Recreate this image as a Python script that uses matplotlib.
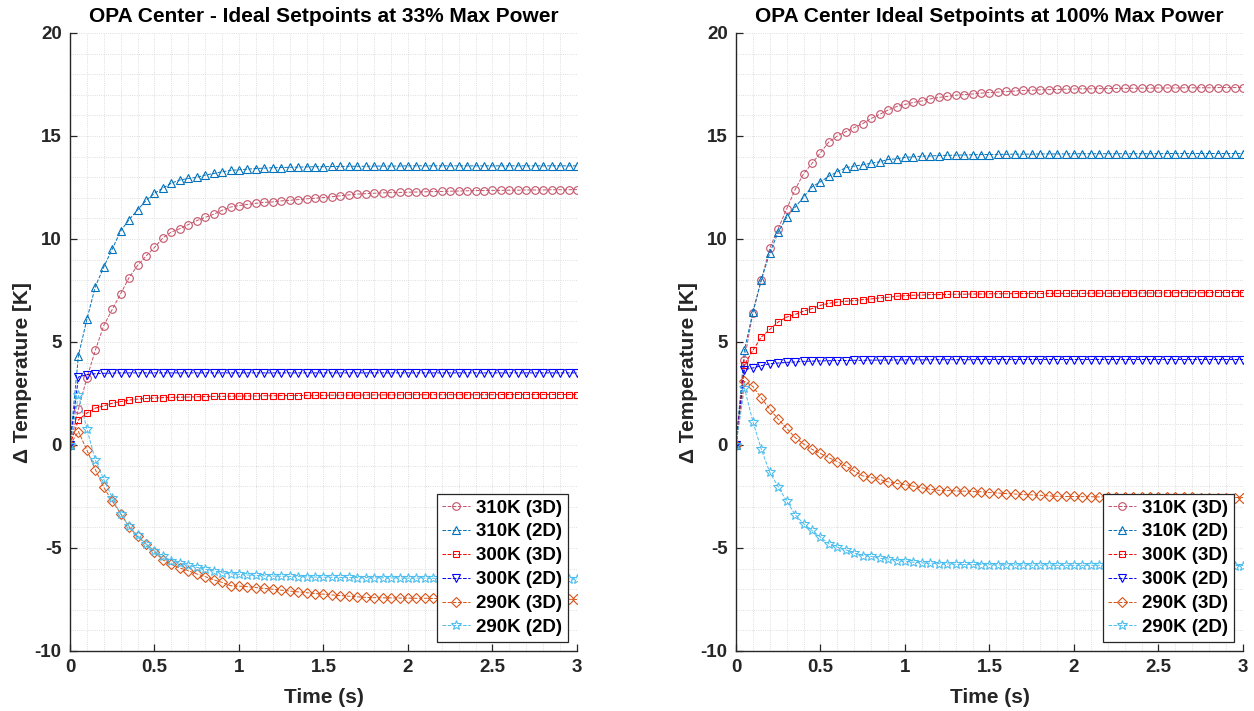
import matplotlib.pyplot as plt
from matplotlib.ticker import MultipleLocator
import numpy as np

plt.rcParams['font.family'] = ['Liberation Sans', 'DejaVu Sans']
plt.rcParams['font.weight'] = 'bold'
plt.rcParams['axes.unicode_minus'] = False

# time axis, 0 to 3 s in 0.05 s steps
t = np.linspace(0, 3, 61)

labels = ['310K (3D)', '310K (2D)', '300K (3D)', '300K (2D)', '290K (3D)', '290K (2D)']
colors = ['#C4536A', '#0072BD', '#FF0000', '#0000FF', '#D95319', '#4DBEEE']
markers = ['o', '^', 's', 'v', 'D', '*']
msizes = [5.5, 5.5, 4.2, 5.5, 5.0, 7.5]

# --- 33% max power ---
l_310_3d = [0, 1.74, 3.25, 4.60, 5.80, 6.58, 7.34, 8.13, 8.72, 9.17, 9.59,
            10.05, 10.34, 10.50, 10.70, 10.89, 11.05, 11.20, 11.39, 11.55, 11.62,
            11.68, 11.73, 11.78, 11.80, 11.85, 11.88, 11.91, 11.95, 11.98, 12.01,
            12.05, 12.10, 12.14, 12.18, 12.20, 12.22, 12.24, 12.25, 12.26, 12.27,
            12.28, 12.29, 12.30, 12.31, 12.32, 12.33, 12.34, 12.35, 12.35, 12.36,
            12.36, 12.37, 12.37, 12.38, 12.38, 12.38, 12.39, 12.39, 12.39, 12.40]
l_310_2d = [0, 4.34, 6.10, 7.69, 8.64, 9.51, 10.39, 10.94, 11.41, 11.87, 12.22,
            12.47, 12.71, 12.86, 12.94, 12.99, 13.10, 13.18, 13.26, 13.33, 13.36,
            13.39, 13.42, 13.44, 13.46, 13.47, 13.48, 13.49, 13.50, 13.51, 13.51,
            13.52, 13.52, 13.53, 13.53, 13.53, 13.54, 13.54, 13.54, 13.54, 13.55,
            13.55, 13.55, 13.55, 13.55, 13.55, 13.55, 13.55, 13.55, 13.55, 13.55,
            13.55, 13.55, 13.55, 13.55, 13.55, 13.55, 13.55, 13.55, 13.55, 13.55]
l_300_3d = [0, 1.22, 1.55, 1.79, 1.90, 2.03, 2.11, 2.18, 2.23, 2.26, 2.28,
            2.30, 2.31, 2.32, 2.33, 2.34, 2.35, 2.36, 2.36, 2.37, 2.37,
            2.38, 2.38, 2.39, 2.39, 2.40, 2.40, 2.40, 2.41, 2.41, 2.41,
            2.42, 2.42, 2.42, 2.42, 2.43, 2.43, 2.43, 2.43, 2.43, 2.44,
            2.44, 2.44, 2.44, 2.44, 2.44, 2.44, 2.44, 2.44, 2.44, 2.44,
            2.45, 2.45, 2.45, 2.45, 2.45, 2.45, 2.45, 2.45, 2.45, 2.45]
l_300_2d = [0, 3.30, 3.42, 3.46, 3.48, 3.49, 3.50, 3.50, 3.50, 3.50, 3.50,
            3.50, 3.50, 3.50, 3.50, 3.50, 3.50, 3.50, 3.50, 3.50, 3.50,
            3.50, 3.50, 3.50, 3.50, 3.50, 3.50, 3.50, 3.50, 3.50, 3.50,
            3.50, 3.50, 3.50, 3.50, 3.50, 3.50, 3.50, 3.50, 3.50, 3.50,
            3.50, 3.50, 3.50, 3.50, 3.50, 3.50, 3.50, 3.50, 3.50, 3.50,
            3.50, 3.50, 3.50, 3.50, 3.50, 3.50, 3.50, 3.50, 3.50, 3.50]
l_290_3d = [0, 0.65, -0.24, -1.19, -2.06, -2.72, -3.33, -3.98, -4.44, -4.83, -5.19,
            -5.58, -5.80, -5.97, -6.10, -6.26, -6.39, -6.54, -6.67, -6.83, -6.85,
            -6.88, -6.92, -6.96, -7.00, -7.05, -7.09, -7.13, -7.17, -7.21, -7.24,
            -7.28, -7.31, -7.34, -7.37, -7.40, -7.41, -7.42, -7.42, -7.43, -7.43,
            -7.44, -7.44, -7.45, -7.45, -7.45, -7.46, -7.46, -7.46, -7.47, -7.47,
            -7.47, -7.47, -7.48, -7.48, -7.48, -7.48, -7.49, -7.49, -7.49, -7.50]
l_290_2d = [0, 2.44, 0.78, -0.73, -1.67, -2.55, -3.37, -3.95, -4.39, -4.80, -5.14,
            -5.40, -5.61, -5.74, -5.84, -5.94, -6.03, -6.11, -6.20, -6.25, -6.28,
            -6.31, -6.33, -6.35, -6.36, -6.37, -6.38, -6.39, -6.40, -6.41, -6.42,
            -6.42, -6.43, -6.43, -6.44, -6.44, -6.45, -6.45, -6.45, -6.46, -6.46,
            -6.46, -6.46, -6.47, -6.47, -6.47, -6.47, -6.47, -6.48, -6.48, -6.48,
            -6.48, -6.48, -6.48, -6.49, -6.49, -6.49, -6.49, -6.49, -6.50, -6.50]

# --- 100% max power ---
r_310_3d = [0, 4.15, 6.42, 8.02, 9.56, 10.50, 11.46, 12.40, 13.17, 13.67, 14.19,
            14.71, 15.00, 15.21, 15.41, 15.60, 15.85, 16.05, 16.26, 16.43, 16.53,
            16.63, 16.70, 16.80, 16.87, 16.92, 16.98, 17.01, 17.04, 17.08, 17.11,
            17.13, 17.16, 17.18, 17.21, 17.22, 17.24, 17.25, 17.26, 17.27, 17.28,
            17.29, 17.29, 17.30, 17.30, 17.31, 17.31, 17.32, 17.32, 17.32, 17.33,
            17.33, 17.33, 17.34, 17.34, 17.34, 17.34, 17.35, 17.35, 17.35, 17.35]
r_310_2d = [0, 4.60, 6.45, 8.02, 9.32, 10.34, 11.05, 11.54, 12.03, 12.53, 12.78,
            13.05, 13.26, 13.46, 13.54, 13.60, 13.68, 13.75, 13.86, 13.89, 13.96,
            13.99, 14.02, 14.03, 14.05, 14.06, 14.07, 14.08, 14.09, 14.10, 14.10,
            14.11, 14.11, 14.12, 14.12, 14.12, 14.13, 14.13, 14.13, 14.13, 14.14,
            14.14, 14.14, 14.14, 14.14, 14.14, 14.14, 14.14, 14.14, 14.14, 14.14,
            14.15, 14.15, 14.15, 14.15, 14.15, 14.15, 14.15, 14.15, 14.15, 14.15]
r_300_3d = [0, 3.90, 4.59, 5.24, 5.61, 5.97, 6.21, 6.34, 6.50, 6.62, 6.78,
            6.88, 6.94, 6.98, 7.01, 7.06, 7.09, 7.14, 7.17, 7.22, 7.25,
            7.27, 7.28, 7.30, 7.30, 7.31, 7.32, 7.32, 7.33, 7.33, 7.34,
            7.34, 7.34, 7.35, 7.35, 7.35, 7.35, 7.36, 7.36, 7.36, 7.36,
            7.36, 7.37, 7.37, 7.37, 7.37, 7.38, 7.38, 7.38, 7.38, 7.38,
            7.39, 7.39, 7.39, 7.39, 7.39, 7.40, 7.40, 7.40, 7.40, 7.40]
r_300_2d = [0, 3.66, 3.74, 3.85, 3.94, 3.98, 4.01, 4.03, 4.06, 4.07, 4.08,
            4.09, 4.10, 4.10, 4.11, 4.11, 4.12, 4.12, 4.12, 4.13, 4.13,
            4.13, 4.13, 4.14, 4.14, 4.14, 4.14, 4.14, 4.14, 4.15, 4.15,
            4.15, 4.15, 4.15, 4.15, 4.15, 4.15, 4.15, 4.15, 4.15, 4.15,
            4.15, 4.15, 4.15, 4.15, 4.15, 4.15, 4.15, 4.15, 4.15, 4.15,
            4.15, 4.15, 4.15, 4.15, 4.15, 4.15, 4.15, 4.15, 4.15, 4.15]
r_290_3d = [0, 3.09, 2.84, 2.28, 1.74, 1.25, 0.81, 0.36, 0.05, -0.21, -0.41,
            -0.62, -0.81, -1.02, -1.27, -1.50, -1.58, -1.67, -1.79, -1.87, -1.92,
            -2.00, -2.08, -2.15, -2.20, -2.21, -2.23, -2.24, -2.26, -2.27, -2.31,
            -2.33, -2.36, -2.38, -2.41, -2.42, -2.44, -2.47, -2.49, -2.50, -2.50,
            -2.51, -2.51, -2.52, -2.52, -2.52, -2.53, -2.53, -2.53, -2.53, -2.54,
            -2.54, -2.54, -2.54, -2.54, -2.55, -2.55, -2.55, -2.55, -2.55, -2.55]
r_290_2d = [0, 2.77, 1.14, -0.21, -1.33, -2.03, -2.72, -3.38, -3.82, -4.15, -4.47,
            -4.80, -4.96, -5.09, -5.25, -5.37, -5.41, -5.50, -5.53, -5.61, -5.64,
            -5.69, -5.72, -5.74, -5.76, -5.77, -5.79, -5.80, -5.80, -5.81, -5.81,
            -5.82, -5.82, -5.82, -5.83, -5.83, -5.83, -5.83, -5.84, -5.84, -5.84,
            -5.84, -5.84, -5.84, -5.84, -5.85, -5.85, -5.85, -5.85, -5.85, -5.85,
            -5.85, -5.85, -5.85, -5.85, -5.85, -5.85, -5.85, -5.85, -5.85, -5.85]

left_series = [l_310_3d, l_310_2d, l_300_3d, l_300_2d, l_290_3d, l_290_2d]
right_series = [r_310_3d, r_310_2d, r_300_3d, r_300_2d, r_290_3d, r_290_2d]
titles = ['OPA Center - Ideal Setpoints at 33% Max Power',
          'OPA Center Ideal Setpoints at 100% Max Power']

fig = plt.figure(figsize=(12.54, 7.11), dpi=100)
ax1 = fig.add_axes([0.0558, 0.0844, 0.4043, 0.8692])
ax2 = fig.add_axes([0.5869, 0.0844, 0.4043, 0.8692])

for ax, series, title in zip([ax1, ax2], [left_series, right_series], titles):
    for y, lab, c, m, ms in zip(series, labels, colors, markers, msizes):
        ax.plot(t, y, linestyle='--', linewidth=0.7, color=c, marker=m,
                markersize=ms, markerfacecolor='none', markeredgewidth=0.8,
                label=lab)
    ax.set_xlim(0, 3)
    ax.set_ylim(-10, 20)
    ax.xaxis.set_major_locator(MultipleLocator(0.5))
    ax.xaxis.set_minor_locator(MultipleLocator(0.1))
    ax.yaxis.set_major_locator(MultipleLocator(5))
    ax.yaxis.set_minor_locator(MultipleLocator(1))
    ax.xaxis.set_major_formatter(plt.FuncFormatter(lambda v, p: f'{v:g}'))
    ax.grid(True, which='both', linestyle=':', color='#d4d4d4', linewidth=0.6)
    ax.set_axisbelow(True)
    for s in ['top', 'right']:
        ax.spines[s].set_visible(False)
    for s in ['left', 'bottom']:
        ax.spines[s].set_color('#262626')
        ax.spines[s].set_linewidth(1.0)
    ax.tick_params(which='major', direction='in', length=5, width=0.9,
                   colors='#262626', labelsize=13.5, pad=6)
    ax.tick_params(which='minor', length=0)
    for lbl in ax.get_xticklabels() + ax.get_yticklabels():
        lbl.set_fontweight('bold')
    ax.set_title(title, fontsize=15, fontweight='bold', pad=8)
    ax.set_xlabel('Time (s)', fontsize=15, fontweight='bold', color='#262626')
    ax.set_ylabel('Δ Temperature [K]', fontsize=15, fontweight='bold', color='#262626')
    ax.xaxis.set_label_coords(0.5, -0.06)
    ax.yaxis.set_label_coords(-0.075, 0.45)
    leg = ax.legend(loc='lower right', fontsize=13.5, frameon=True, fancybox=False,
                    edgecolor='#262626', framealpha=1, borderpad=0.3,
                    labelspacing=0.36, handlelength=1.5, handletextpad=0.3,
                    borderaxespad=0.5)
    leg.get_frame().set_linewidth(0.9)
    for txt in leg.get_texts():
        txt.set_fontweight('bold')

fig.savefig('out.png', dpi=100)
